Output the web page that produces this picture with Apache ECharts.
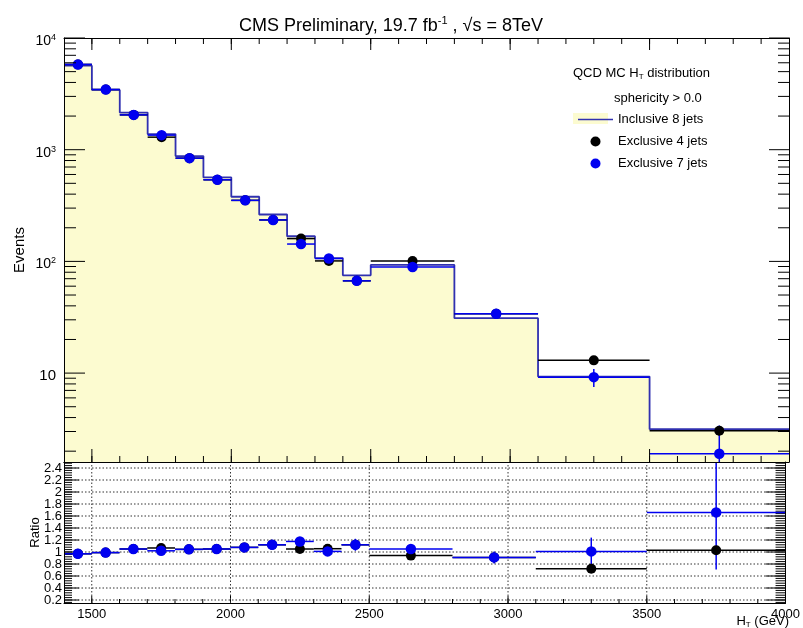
<!DOCTYPE html>
<html>
<head>
<meta charset="utf-8">
<script src="https://cdn.jsdelivr.net/npm/echarts@6/dist/echarts.min.js"></script>
<style>
  html, body { margin: 0; padding: 0; background: #ffffff; }
  #chart { width: 803px; height: 628px; }
</style>
</head>
<body>
<div id="chart"></div>
<script>
// H_T bin edges (GeV)
const binEdges = [1400, 1500, 1600, 1700, 1800, 1900, 2000, 2100, 2200, 2300, 2400, 2500, 2800, 3100, 3500, 4000];

// Events per bin
const inclusive8 = [5650, 3430, 2150, 1380, 877, 565, 379, 263, 168, 107, 75, 93, 31, 9.3, 3.15];
const exclusive4 = [5800, 3460, 2050, 1295, 840, 538, 352, 235, 160, 101, 67, 101, 34, 13, 3.05];
const exclusive4Err = [20, 15, 10, 8, 6, 4, 3, 2.5, 2, 1.5, 1.2, 1.5, 0.6, 0.4, 0.3];
const exclusive7 = [5800, 3460, 2050, 1350, 840, 538, 352, 235, 143, 106, 67, 89, 34, 9.2, 1.9];
const exclusive7Err = [20, 15, 10, 8, 6, 4, 3, 2.5, 2, 1.5, 1.5, 2, 1, 1.7, 1.5];

// Ratio panel: inclusive 8 jets over each exclusive sample
const ratio4 = [0.97, 0.99, 1.05, 1.067, 1.044, 1.05, 1.077, 1.12, 1.05, 1.055, 1.12, 0.94, 0.91, 0.72, 1.03];
const ratio4Err = [0.01, 0.01, 0.01, 0.01, 0.01, 0.01, 0.01, 0.01, 0.01, 0.015, 0.02, 0.02, 0.03, 0.05, 0.06];
const ratio7 = [0.97, 0.99, 1.05, 1.02, 1.044, 1.05, 1.077, 1.12, 1.176, 1.01, 1.12, 1.05, 0.91, 1.01, 1.66];
const ratio7Err = [0.01, 0.01, 0.02, 0.02, 0.02, 0.03, 0.03, 0.04, 0.05, 0.06, 0.1, 0.07, 0.1, 0.23, 0.95];

// Axis ticks
const xLabelValues = [1500, 2000, 2500, 3000, 3500, 4000];
const xMajorTicks = [1500, 2000, 2500, 3000, 3500];
const xMinorTicks = [1500, 1600, 1700, 1800, 1900, 2000, 2100, 2200, 2300, 2400, 2500, 2600, 2700, 2800, 2900,
                     3000, 3100, 3200, 3300, 3400, 3500, 3600, 3700, 3800, 3900];
const logMajorTicks = [10, 100, 1000, 10000];
const logMinorTicks = [2, 3, 4, 5, 6, 7, 8, 9, 20, 30, 40, 50, 60, 70, 80, 90,
                       200, 300, 400, 500, 600, 700, 800, 900, 2000, 3000, 4000, 5000, 6000, 7000, 8000, 9000];
const ratioLabelValues = [0.2, 0.4, 0.6, 0.8, 1, 1.2, 1.4, 1.6, 1.8, 2, 2.2, 2.4];

const X_MIN = 1400, X_MAX = 4000;
const LOG_MIN = 1.6, LOG_MAX = 10000;
const R_MIN = 0.15, R_MAX = 2.5;

const FONT = 'Liberation Sans';
const FILL = '#fcfbd0';
const HIST_LINE = '#3030b0';
const BLUE = '#0000f0';
const BLACK = '#000000';

// ratio minor ticks every 0.04
const ratioMinorTicks = [];
for (let k = 4; k <= 62; k++) ratioMinorTicks.push(+(k * 0.04).toFixed(2));

// step outline of the inclusive histogram: one point per left edge plus the closing edge
const histPoints = inclusive8.map((v, i) => [binEdges[i], v]);
histPoints.push([binEdges[binEdges.length - 1], inclusive8[inclusive8.length - 1]]);

const binCenters = inclusive8.map((_, i) => (binEdges[i] + binEdges[i + 1]) / 2);

function errorData(vals, errs) {
  return vals.map((v, i) => [binCenters[i], v, binEdges[i], binEdges[i + 1], v - errs[i], v + errs[i]]);
}
function pointData(vals) {
  return vals.map((v, i) => [binCenters[i], v]);
}

function line(x1, y1, x2, y2, color, width, dash) {
  return { type: 'line', shape: { x1, y1, x2, y2 },
           style: { stroke: color, lineWidth: width, lineDash: dash || null } };
}

function errorBarRenderer(color) {
  return function (params, api) {
    const xc = api.value(0), y = api.value(1);
    const lo = api.coord([api.value(2), y]);
    const hi = api.coord([api.value(3), y]);
    const top = api.coord([xc, api.value(5)]);
    const bot = api.coord([xc, Math.max(api.value(4), 1e-3)]);
    return { type: 'group', children: [
      line(lo[0], lo[1], hi[0], hi[1], color, 1.5),
      line(top[0], top[1], bot[0], bot[1], color, 1.5)
    ] };
  };
}

// ticks of the upper panel
function topXTicks(params, api) {
  const x = api.value(0), major = api.value(2);
  const b = api.coord([x, LOG_MIN]);
  const t = api.coord([x, LOG_MAX]);
  return { type: 'group', children: [
    line(b[0], b[1], b[0], b[1] - (major ? 13 : 6), BLACK, 1),
    line(t[0], t[1], t[0], t[1] + (major ? 12 : 6), BLACK, 1)
  ] };
}
function topYTicks(params, api) {
  const v = api.value(1), major = api.value(2);
  const l = api.coord([X_MIN, v]);
  const r = api.coord([X_MAX, v]);
  return { type: 'group', children: [
    line(l[0], l[1], l[0] + (major ? 21 : 12), l[1], BLACK, 1),
    line(r[0], r[1], r[0] - (major ? 20 : 11), r[1], BLACK, 1)
  ] };
}
// ticks and dotted grid of the ratio panel
function ratioXTicks(params, api) {
  const x = api.value(0), major = api.value(2);
  const b = api.coord([x, R_MIN]);
  const t = api.coord([x, R_MAX]);
  const kids = [line(b[0], b[1], b[0], b[1] - (major ? 7 : 4), BLACK, 1)];
  if (major) kids.push(line(b[0], b[1], t[0], t[1], '#333', 1, [1.5, 2]));
  return { type: 'group', children: kids };
}
function ratioYTicks(params, api) {
  const v = api.value(1), major = api.value(2);
  const l = api.coord([X_MIN, v]);
  const r = api.coord([X_MAX, v]);
  const kids = [
    line(l[0], l[1], l[0] + (major ? 15 : 8), l[1], BLACK, 1),
    line(r[0], r[1], r[0] - (major ? 20 : 10), r[1], BLACK, 1)
  ];
  if (major) kids.push(line(l[0], l[1], r[0], r[1], '#333', 1, [1.5, 2]));
  return { type: 'group', children: kids };
}

const chart = echarts.init(document.getElementById('chart'), null, { renderer: 'canvas' });

const axisLineStyle = { show: true, lineStyle: { color: BLACK, width: 1 } };
const markerStyle = color => ({ color: color, opacity: 1 });

const option = {
  animation: false,
  backgroundColor: '#ffffff',
  textStyle: { fontFamily: FONT },
  grid: [
    { left: 64, top: 38, width: 725, height: 424 },
    { left: 64, top: 462, width: 725, height: 141 }
  ],
  xAxis: [
    { gridIndex: 0, type: 'value', position: 'bottom', min: X_MIN, max: X_MAX, interval: 100, z: 10,
      axisLine: axisLineStyle, axisTick: { show: false }, axisLabel: { show: false }, splitLine: { show: false } },
    { gridIndex: 0, type: 'value', position: 'top', min: X_MIN, max: X_MAX, interval: 100, z: 10,
      axisLine: axisLineStyle, axisTick: { show: false }, axisLabel: { show: false }, splitLine: { show: false } },
    { gridIndex: 1, type: 'value', position: 'bottom', min: X_MIN, max: X_MAX, interval: 100, z: 10,
      axisLine: axisLineStyle, axisTick: { show: false }, splitLine: { show: false },
      axisLabel: { show: true, margin: 5, color: BLACK, fontSize: 13, fontFamily: FONT,
        formatter: v => (xLabelValues.indexOf(Math.round(v)) >= 0 ? String(Math.round(v)) : '') } },
    { gridIndex: 1, type: 'value', position: 'top', min: X_MIN, max: X_MAX, interval: 100, z: 10,
      axisLine: axisLineStyle, axisTick: { show: false }, axisLabel: { show: false }, splitLine: { show: false } }
  ],
  yAxis: [
    { gridIndex: 0, type: 'log', logBase: 10, position: 'left', min: LOG_MIN, max: LOG_MAX, z: 10,
      axisLine: axisLineStyle, axisTick: { show: false }, splitLine: { show: false },
      name: 'Events', nameLocation: 'middle', nameGap: 37, nameMoveOverlap: false,
      nameTextStyle: { fontSize: 15, color: BLACK, fontFamily: FONT },
      axisLabel: { show: true, margin: 8, color: BLACK, fontFamily: FONT, padding: [6, 0, 0, 0],
        formatter: function (v) {
          const l = Math.log10(v), e = Math.round(l);
          if (Math.abs(l - e) > 1e-6 || logMajorTicks.indexOf(Math.pow(10, e)) < 0) return '';
          if (e === 1) return '{plain|10}';
          return '{base|10}{sup|' + e + '}';
        },
        rich: {
          plain: { fontSize: 15, fontFamily: FONT, color: BLACK },
          base: { fontSize: 14, fontFamily: FONT, color: BLACK, lineHeight: 16 },
          sup: { fontSize: 9, fontFamily: FONT, color: BLACK, lineHeight: 9, verticalAlign: 'top' }
        } } },
    { gridIndex: 0, type: 'log', logBase: 10, position: 'right', min: LOG_MIN, max: LOG_MAX, z: 10,
      axisLine: axisLineStyle, axisTick: { show: false }, axisLabel: { show: false }, splitLine: { show: false } },
    { gridIndex: 1, type: 'value', position: 'left', min: R_MIN, max: R_MAX, interval: 0.05, z: 10,
      axisLine: axisLineStyle, axisTick: { show: false }, splitLine: { show: false },
      name: 'Ratio', nameLocation: 'middle', nameGap: 22, nameMoveOverlap: false,
      nameTextStyle: { fontSize: 13, color: BLACK, fontFamily: FONT },
      axisLabel: { show: true, margin: 2, color: BLACK, fontSize: 13, fontFamily: FONT,
        formatter: function (v) {
          const r = Math.round(v * 10) / 10;
          const hit = ratioLabelValues.some(t => Math.abs(t - v) < 1e-6);
          return hit ? String(r) : '';
        } } },
    { gridIndex: 1, type: 'value', position: 'right', min: R_MIN, max: R_MAX, interval: 0.05, z: 10,
      axisLine: axisLineStyle, axisTick: { show: false }, axisLabel: { show: false }, splitLine: { show: false } }
  ],
  legend: {
    left: 573, top: 108, orient: 'vertical', itemWidth: 35, itemHeight: 10, itemGap: 9,
    selectedMode: false,
    textStyle: { fontSize: 13, color: BLACK, fontFamily: FONT },
    data: [
      { name: 'Inclusive 8 jets', icon: 'path://M0,0H35V1.6H0Z' },
      { name: 'Exclusive 4 jets', icon: 'circle' },
      { name: 'Exclusive 7 jets', icon: 'circle' }
    ]
  },
  graphic: [
    { type: 'text', x: 391, y: 26, z: 20,
      style: { text: '{t|CMS Preliminary, 19.7 fb}{s|-1}{t| , √s = 8TeV}', textAlign: 'center', textVerticalAlign: 'middle',
        rich: { t: { fontSize: 18, fontFamily: FONT, fill: BLACK, lineHeight: 21 },
                s: { fontSize: 11, fontFamily: FONT, fill: BLACK, lineHeight: 11, verticalAlign: 'top' } } } },
    { type: 'text', x: 573, y: 73, z: 20,
      style: { text: '{t|QCD MC H}{s|T}{t| distribution}', textAlign: 'left', textVerticalAlign: 'middle',
        rich: { t: { fontSize: 13, fontFamily: FONT, fill: BLACK, lineHeight: 16 },
                s: { fontSize: 8, fontFamily: FONT, fill: BLACK, lineHeight: 8, verticalAlign: 'bottom' } } } },
    { type: 'text', x: 614, y: 98, z: 20,
      style: { text: 'sphericity > 0.0', textAlign: 'left', textVerticalAlign: 'middle',
        fontSize: 13, fontFamily: FONT, fill: BLACK } },
    { type: 'rect', shape: { x: 573, y: 113, width: 35, height: 11 }, style: { fill: FILL }, z: 3 },
    { type: 'text', x: 789, y: 621, z: 20,
      style: { text: '{t|H}{s|T}{t| (GeV)}', textAlign: 'right', textVerticalAlign: 'middle',
        rich: { t: { fontSize: 13, fontFamily: FONT, fill: BLACK, lineHeight: 15 },
                s: { fontSize: 8, fontFamily: FONT, fill: BLACK, lineHeight: 8, verticalAlign: 'bottom' } } } }
  ],
  series: [
    { name: 'Inclusive 8 jets', type: 'line', xAxisIndex: 0, yAxisIndex: 0, step: 'end',
      data: histPoints, showSymbol: false, symbol: 'none', color: HIST_LINE, z: 2,
      lineStyle: { color: HIST_LINE, width: 1.8 },
      areaStyle: { color: FILL, opacity: 1, origin: 'start' } },
    { name: 'Exclusive 4 jets bars', type: 'custom', xAxisIndex: 0, yAxisIndex: 0, clip: true, z: 3,
      renderItem: errorBarRenderer(BLACK), encode: { x: 0, y: 1 }, data: errorData(exclusive4, exclusive4Err) },
    { name: 'Exclusive 7 jets bars', type: 'custom', xAxisIndex: 0, yAxisIndex: 0, clip: true, z: 3,
      renderItem: errorBarRenderer(BLUE), encode: { x: 0, y: 1 }, data: errorData(exclusive7, exclusive7Err) },
    { name: 'Exclusive 4 jets', type: 'scatter', xAxisIndex: 0, yAxisIndex: 0, symbolSize: 10, z: 4,
      color: BLACK, itemStyle: markerStyle(BLACK), data: pointData(exclusive4) },
    { name: 'Exclusive 7 jets', type: 'scatter', xAxisIndex: 0, yAxisIndex: 0, symbolSize: 10.5, z: 5,
      color: BLUE, itemStyle: markerStyle(BLUE), data: pointData(exclusive7) },
    { name: 'top x ticks', type: 'custom', xAxisIndex: 0, yAxisIndex: 0, z: 6, encode: { x: 0, y: 1 },
      renderItem: topXTicks,
      data: xMinorTicks.map(v => [v, LOG_MIN, 0]).concat(xMajorTicks.map(v => [v, LOG_MIN, 1])) },
    { name: 'top y ticks', type: 'custom', xAxisIndex: 0, yAxisIndex: 0, z: 6, encode: { x: 0, y: 1 },
      renderItem: topYTicks,
      data: logMinorTicks.map(v => [X_MIN, v, 0]).concat(logMajorTicks.map(v => [X_MIN, v, 1])) },
    { name: 'ratio x ticks', type: 'custom', xAxisIndex: 2, yAxisIndex: 2, z: 1, encode: { x: 0, y: 1 },
      renderItem: ratioXTicks,
      data: xMinorTicks.map(v => [v, R_MIN, 0]).concat(xMajorTicks.map(v => [v, R_MIN, 1])) },
    { name: 'ratio y ticks', type: 'custom', xAxisIndex: 2, yAxisIndex: 2, z: 1, encode: { x: 0, y: 1 },
      renderItem: ratioYTicks,
      data: ratioMinorTicks.map(v => [X_MIN, v, 0]).concat(ratioLabelValues.map(v => [X_MIN, v, 1])) },
    { name: 'Ratio 4 jets bars', type: 'custom', xAxisIndex: 2, yAxisIndex: 2, clip: true, z: 3,
      renderItem: errorBarRenderer(BLACK), encode: { x: 0, y: 1 }, data: errorData(ratio4, ratio4Err) },
    { name: 'Ratio 7 jets bars', type: 'custom', xAxisIndex: 2, yAxisIndex: 2, clip: true, z: 3,
      renderItem: errorBarRenderer(BLUE), encode: { x: 0, y: 1 }, data: errorData(ratio7, ratio7Err) },
    { name: 'Ratio 4 jets', type: 'scatter', xAxisIndex: 2, yAxisIndex: 2, symbolSize: 10, z: 4,
      color: BLACK, itemStyle: markerStyle(BLACK), data: pointData(ratio4) },
    { name: 'Ratio 7 jets', type: 'scatter', xAxisIndex: 2, yAxisIndex: 2, symbolSize: 10.5, z: 5,
      color: BLUE, itemStyle: markerStyle(BLUE), data: pointData(ratio7) }
  ]
};

chart.setOption(option);
</script>
</body>
</html>
